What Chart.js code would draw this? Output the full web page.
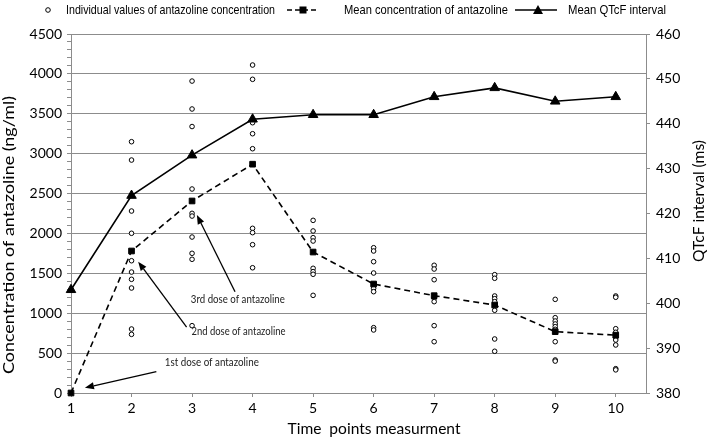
<!DOCTYPE html>
<html><head><meta charset="utf-8">
<script src="https://cdn.jsdelivr.net/npm/chart.js@4/dist/chart.umd.min.js"></script>
<style>html,body{margin:0;padding:0;background:#fff}#wrap{width:709px;height:439px;position:relative}</style>
</head><body><div id="wrap"><canvas id="c" width="709" height="439"></canvas></div>
<script>
const timePoints = [1,2,3,4,5,6,7,8,9,10];
const meanConcentration = [0,1780,2407,2868,1767,1366,1220,1103,769,725];
const meanQTcF = [403,424,433,441,442,442,446,448,445,446];
const individualValues = [
  [],
  [3150,2920,2281,2002,1658,1516,1425,1316,802,735],
  [3910,3560,3340,2557,2252,2218,1955,1751,1676,844],
  [4111,3932,3388,3250,3062,2064,2010,1859,1570],
  [2164,2031,1947,1905,1563,1521,1488,1224],
  [1821,1780,1646,1504,1312,1270,819,790],
  [1601,1554,1420,1187,1145,844,643],
  [1483,1438,1216,1182,1145,1037,677,523],
  [1174,944,902,865,831,798,643,414,400],
  [1216,1200,806,761,693,664,602,305,290]
];
const legendLabels = ['Individual values of antazoline concentration','Mean concentration of antazoline','Mean QTcF interval'];
const axisTitles = {left:'Concentration of antazoline (ng/ml)', right:'QTcF interval (ms)', bottom:'Time  points measurment'};
// annotation texts with anchor positions in data units (x = time point, y = concentration)
const annotations = [
  {text:'1st dose of antazoline', tx:2.55, ty:389, sx:2.41, sy:267, ex:1.23, ey:66},
  {text:'2nd dose of antazoline', tx:2.99, ty:768, sx:2.91, sy:827, ex:2.11, ey:1646},
  {text:'3rd dose of antazoline', tx:2.98, ty:1178, sx:3.71, sy:1270, ex:3.08, ey:2231}
];

const GRID = '#8c8c8c';
const FONT = 'Lato, "Open Sans", sans-serif';

function fitText(ctx, text, x, y, width, rot) {
  const w = ctx.measureText(text).width;
  const s = width / w;
  ctx.save();
  ctx.translate(x, y);
  if (rot) ctx.rotate(rot);
  ctx.scale(s, 1);
  ctx.fillText(text, 0, 0);
  ctx.restore();
}

const decorPlugin = {
  id: 'decor',
  afterDraw(chart) {
    const ctx = chart.ctx;
    const xs = chart.scales.x, ys = chart.scales.y;
    ctx.save();
    ctx.fillStyle = '#000';
    ctx.strokeStyle = '#000';
    // legend
    const ly = 10;
    ctx.font = '13px "Liberation Sans Narrow", "Arial Narrow", "Liberation Sans", sans-serif';
    ctx.textBaseline = 'middle';
    ctx.textAlign = 'left';
    ctx.lineWidth = 1;
    ctx.beginPath(); ctx.arc(48, ly, 2.3, 0, Math.PI * 2); ctx.fillStyle = '#fff'; ctx.fill(); ctx.stroke();
    ctx.fillStyle = '#000';
    fitText(ctx, legendLabels[0], 66, ly, 209);
    ctx.lineWidth = 1.5; ctx.setLineDash([5, 3]);
    ctx.beginPath(); ctx.moveTo(287, ly); ctx.lineTo(319, ly); ctx.stroke();
    ctx.setLineDash([]);
    ctx.fillRect(299.5, ly - 3.5, 7, 7);
    fitText(ctx, legendLabels[1], 344, ly, 164);
    ctx.beginPath(); ctx.moveTo(515, ly); ctx.lineTo(557, ly); ctx.stroke();
    ctx.beginPath(); ctx.moveTo(538, ly - 5); ctx.lineTo(543, ly + 4); ctx.lineTo(533, ly + 4); ctx.closePath(); ctx.fill();
    fitText(ctx, legendLabels[2], 568, ly, 98);
    // axis titles
    ctx.font = '16px ' + FONT;
    ctx.textAlign = 'center';
    fitText(ctx, axisTitles.left, 9, 235, 278, -Math.PI / 2);
    fitText(ctx, axisTitles.right, 699, 201, 122, -Math.PI / 2);
    fitText(ctx, axisTitles.bottom, 374, 429, 173);
    // annotations
    ctx.font = '11px ' + FONT;
    ctx.textAlign = 'left';
    ctx.fillStyle = '#222';
    annotations.forEach(a => {
      const tx = xs.getPixelForValue(a.tx), ty = ys.getPixelForValue(a.ty);
      fitText(ctx, a.text, tx, ty, 94);
      const x1 = xs.getPixelForValue(a.sx), y1 = ys.getPixelForValue(a.sy);
      const x2 = xs.getPixelForValue(a.ex), y2 = ys.getPixelForValue(a.ey);
      const ang = Math.atan2(y2 - y1, x2 - x1);
      const L = 9, W = 3.5;
      const bx = x2 - L * Math.cos(ang), by = y2 - L * Math.sin(ang);
      ctx.strokeStyle = '#000'; ctx.fillStyle = '#000'; ctx.lineWidth = 1.3;
      ctx.beginPath(); ctx.moveTo(x1, y1); ctx.lineTo(bx, by); ctx.stroke();
      ctx.beginPath();
      ctx.moveTo(x2, y2);
      ctx.lineTo(bx + W * Math.sin(ang), by - W * Math.cos(ang));
      ctx.lineTo(bx - W * Math.sin(ang), by + W * Math.cos(ang));
      ctx.closePath(); ctx.fill();
      ctx.fillStyle = '#222';
    });
    ctx.restore();
  }
};

const individualPoints = [];
individualValues.forEach((vals, i) => vals.forEach(v => individualPoints.push({x: timePoints[i], y: v})));

new Chart(document.getElementById('c'), {
  type: 'scatter',
  data: {
    datasets: [
      {
        label: legendLabels[2], yAxisID: 'y2', order: 0, showLine: true, clip: false,
        data: timePoints.map((t, i) => ({x: t, y: meanQTcF[i]})),
        borderColor: '#000', borderWidth: 1.6, pointStyle: 'triangle', pointRadius: 5.5,
        pointBackgroundColor: '#000', pointBorderColor: '#000', pointBorderWidth: 1
      },
      {
        label: legendLabels[1], yAxisID: 'y', order: 1, showLine: true, clip: false,
        data: timePoints.map((t, i) => ({x: t, y: meanConcentration[i]})),
        borderColor: '#000', borderWidth: 1.6, borderDash: [6, 4], pointStyle: 'rect', pointRadius: 4,
        pointBackgroundColor: '#000', pointBorderColor: '#000', pointBorderWidth: 1
      },
      {
        label: legendLabels[0], yAxisID: 'y', order: 2, showLine: false, clip: false,
        data: individualPoints,
        pointStyle: 'circle', pointRadius: 2.3, pointBorderWidth: 1,
        pointBackgroundColor: '#fff', pointBorderColor: '#000'
      }
    ]
  },
  options: {
    responsive: false, animation: false, devicePixelRatio: 1,
    layout: {padding: {top: 34, left: 0, right: 0, bottom: 0}},
    plugins: {legend: {display: false}, tooltip: {enabled: false}},
    scales: {
      x: {
        type: 'linear', min: 1, max: 10.5,
        afterBuildTicks: s => { s.ticks = timePoints.map(v => ({value: v})); },
        afterFit: s => { s.height = 46; },
        grid: {drawOnChartArea: false, tickLength: 4, color: GRID},
        border: {color: GRID},
        ticks: {autoSkip: false, maxRotation: 0, color: '#000', padding: 3, font: {family: FONT, size: 14}, callback: v => String(v)}
      },
      y: {
        position: 'left', min: 0, max: 4500,
        afterBuildTicks: s => { const t = []; for (let v = 0; v <= 4500; v += 100) t.push({value: v}); s.ticks = t; },
        afterFit: s => { s.width = 71; },
        grid: {color: c => (c.tick && c.tick.value % 500 === 0) ? GRID : 'rgba(0,0,0,0)', tickColor: GRID, tickLength: 4},
        border: {color: GRID},
        ticks: {autoSkip: false, color: '#000', padding: 5, font: {family: FONT, size: 14}, callback: v => (v % 500 === 0 ? String(v) : '')}
      },
      y2: {
        position: 'right', min: 380, max: 460,
        afterBuildTicks: s => { const t = []; for (let v = 380; v <= 460; v += 10) t.push({value: v}); s.ticks = t; },
        afterFit: s => { s.width = 63; },
        grid: {drawOnChartArea: false, color: GRID, tickLength: 4},
        border: {color: GRID},
        ticks: {autoSkip: false, color: '#000', padding: 6, font: {family: FONT, size: 14}, callback: v => String(v)}
      }
    }
  },
  plugins: [decorPlugin]
});
</script>
</body></html>
